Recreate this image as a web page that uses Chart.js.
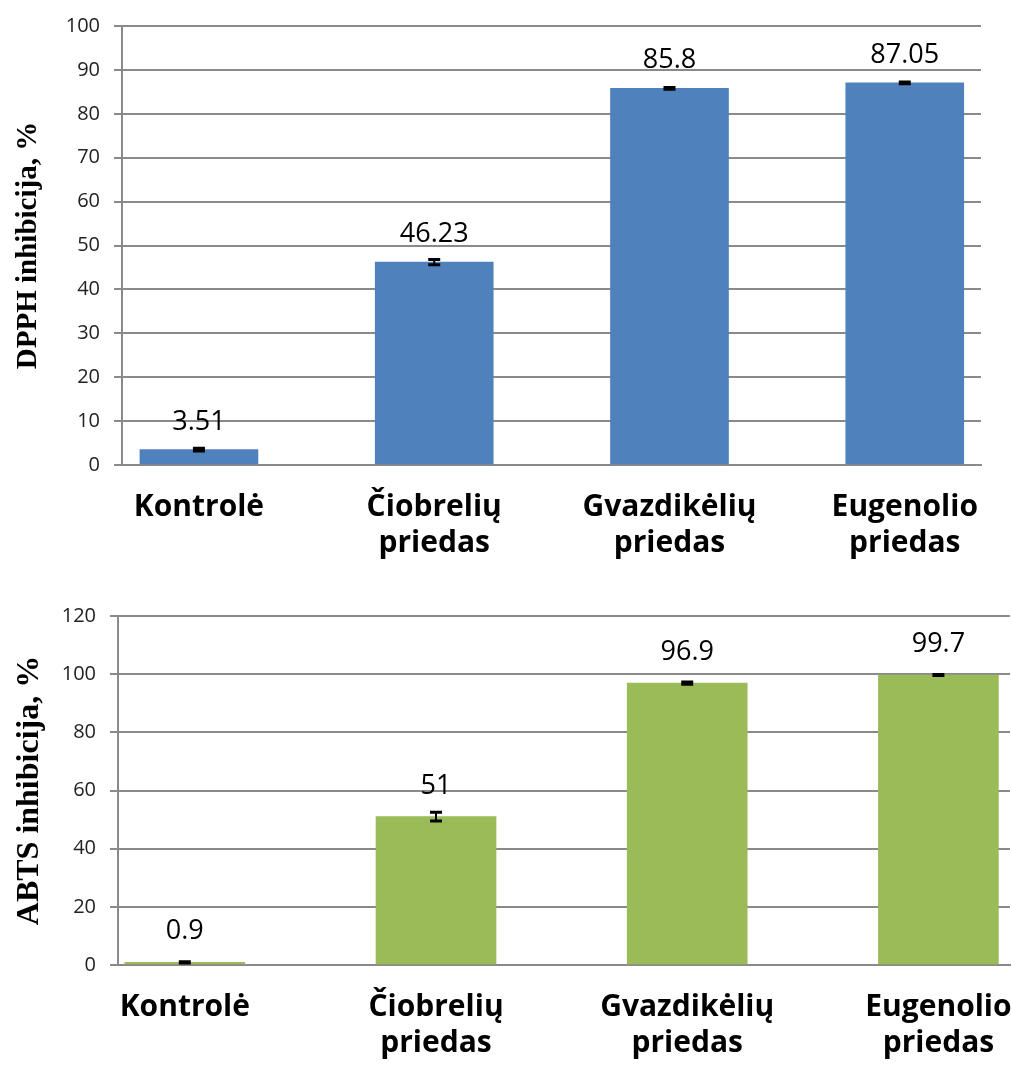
<!DOCTYPE html>
<html>
<head>
<meta charset="utf-8">
<script src="https://cdn.jsdelivr.net/npm/chart.js@4.4.1/dist/chart.umd.min.js"></script>
<style>
  html, body { margin: 0; padding: 0; background: #fff; }
  .box { position: absolute; left: 0; width: 1012px; }
  #top { top: 0; height: 590px; }
  #bottom { top: 590px; height: 481px; }
</style>
</head>
<body>
<div class="box" id="top"><canvas id="dpphChart"></canvas></div>
<div class="box" id="bottom"><canvas id="abtsChart"></canvas></div>
<script>
const categories = [['Kontrolė'], ['Čiobrelių', 'priedas'], ['Gvazdikėlių', 'priedas'], ['Eugenolio', 'priedas']];
const dpphValues = [3.51, 46.23, 85.8, 87.05];
const dpphErrors = [0.3, 0.6, 0.2, 0.2];
const abtsValues = [0.9, 51, 96.9, 99.7];
const abtsErrors = [0.2, 1.5, 0.4, 0.2];
const dpphTicks = [0, 10, 20, 30, 40, 50, 60, 70, 80, 90, 100];
const abtsTicks = [0, 20, 40, 60, 80, 100, 120];

const gridGray = '#8a8a8a';

// error bars + value labels above each bar
const barExtras = {
  id: 'barExtras',
  afterDatasetsDraw(chart, args, opts) {
    const ctx = chart.ctx;
    const y = chart.scales.y;
    chart.getDatasetMeta(0).data.forEach((bar, i) => {
      const v = opts.values[i], e = opts.errors[i];
      const hi = y.getPixelForValue(v + e), lo = y.getPixelForValue(v - e);
      ctx.save();
      ctx.strokeStyle = '#000';
      ctx.lineWidth = 2;
      ctx.beginPath();
      ctx.moveTo(bar.x, hi); ctx.lineTo(bar.x, lo);
      ctx.stroke();
      ctx.lineWidth = 3;
      ctx.beginPath();
      ctx.moveTo(bar.x - 6, hi); ctx.lineTo(bar.x + 6, hi);
      ctx.moveTo(bar.x - 6, lo); ctx.lineTo(bar.x + 6, lo);
      ctx.stroke();
      ctx.fillStyle = '#000';
      ctx.font = opts.fontSize + 'px "Open Sans"';
      ctx.textAlign = 'center';
      ctx.textBaseline = 'alphabetic';
      ctx.fillText(String(v), bar.x, bar.y - opts.gap);
      ctx.restore();
    });
  }
};

function makeChart(id, cfg) {
  const ticks = cfg.ticks;
  return new Chart(document.getElementById(id).getContext('2d'), {
    type: 'bar',
    data: {
      datasets: [{
        data: cfg.values.map((v, i) => ({ x: i, y: v })),
        backgroundColor: cfg.color,
        borderWidth: 0,
        barThickness: cfg.barWidth
      }]
    },
    options: {
      responsive: true,
      maintainAspectRatio: false,
      animation: false,
      layout: { padding: cfg.padding },
      plugins: {
        legend: { display: false },
        tooltip: { enabled: false },
        barExtras: { values: cfg.values, errors: cfg.errors, gap: cfg.gap, fontSize: 27 }
      },
      scales: {
        x: {
          type: 'linear',
          min: cfg.xMin, max: cfg.xMax,
          offset: false,
          bounds: 'data',
          grid: { display: false, offset: false },
          border: { display: true, color: gridGray, width: 2 },
          afterBuildTicks: (s) => { s.ticks = categories.map((c, i) => ({ value: i })); },
          ticks: {
            autoSkip: false, maxRotation: 0,
            color: '#000', padding: cfg.labelPad,
            font: { family: 'Open Sans', size: 30, weight: 'bold', lineHeight: 1.2 },
            callback: (v) => categories[Math.round(v)] || ''
          },
          afterFit: (s) => { s.height = cfg.xHeight; s.paddingLeft = 0; s.paddingRight = 0; }
        },
        y: {
          min: ticks[0], max: ticks[ticks.length - 1],
          ticks: {
            stepSize: ticks[1] - ticks[0], color: '#222', padding: 14,
            font: { family: 'Open Sans', size: 20 }
          },
          grid: { color: gridGray, lineWidth: 2, tickLength: 8 },
          border: { display: true, color: gridGray, width: 2 },
          title: {
            display: true, text: cfg.title, color: '#000',
            font: { family: 'Liberation Serif', size: cfg.titleSize, weight: 'bold', lineHeight: 1.2 },
            padding: { top: 11, bottom: 0 }
          },
          afterFit: (s) => { s.width = cfg.yWidth; }
        }
      }
    },
    plugins: [barExtras]
  });
}

makeChart('dpphChart', {
  values: dpphValues, errors: dpphErrors, ticks: dpphTicks,
  color: '#4F81BD', barWidth: 118, gap: 20,
  title: 'DPPH inhibicija, %', titleSize: 29,
  padding: { top: 20, right: 31, left: 0, bottom: 0 },
  xMin: -0.327, xMax: 3.324, xHeight: 125, yWidth: 122, labelPad: 16
});

makeChart('abtsChart', {
  values: abtsValues, errors: abtsErrors, ticks: abtsTicks,
  color: '#9BBB59', barWidth: 120, gap: 23,
  title: 'ABTS inhibicija, %', titleSize: 32,
  padding: { top: 23, right: 2, left: 0, bottom: 0 },
  xMin: -0.266, xMax: 3.285, xHeight: 106, yWidth: 118, labelPad: 16
});
</script>
</body>
</html>
